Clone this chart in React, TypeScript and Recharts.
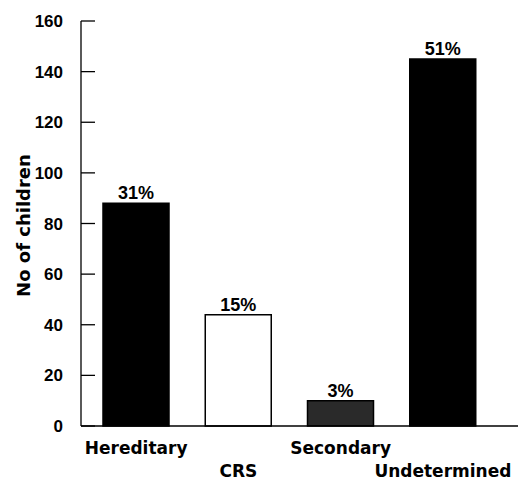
import React from 'react';
import { BarChart, Bar, XAxis, YAxis, Cell, LabelList } from 'recharts';

const categories = ['Hereditary', 'CRS', 'Secondary', 'Undetermined'];
const children = [88, 44, 10, 145];
const percents = ['31%', '15%', '3%', '51%'];
const fills = ['#000000', '#ffffff', '#2a2a2a', '#000000'];
const yTicks = [0, 20, 40, 60, 80, 100, 120, 140, 160];

const data = categories.map((name, i) => ({ name, value: children[i], pct: percents[i] }));

const YTick = (props: any) => {
    const { x, y, payload } = props;
    return (
        <g>
            <line x1={x} y1={y} x2={x + 14} y2={y} stroke="#000" strokeWidth={1.3} />
            <text
                x={x - 18}
                y={y}
                dy={6}
                textAnchor="end"
                fontFamily="'Liberation Sans', Arial, sans-serif"
                fontWeight="bold"
                fontSize={17}
                fill="#000"
            >
                {payload.value}
            </text>
        </g>
    );
};

const XTick = (props: any) => {
    const { x, y, payload, index } = props;
    return (
        <text
            x={x}
            y={y + (index % 2 === 0 ? 28 : 51)}
            textAnchor="middle"
            fontFamily="'DejaVu Sans', sans-serif"
            fontWeight="bold"
            fontSize={17}
            fill="#000"
        >
            {payload.value}
        </text>
    );
};

const YLabel = (props: any) => {
    const { viewBox } = props;
    const cx = viewBox.x + 23;
    const cy = viewBox.y + viewBox.height / 2 + 2;
    return (
        <text
            transform={`translate(${cx}, ${cy}) rotate(-90)`}
            textAnchor="middle"
            dominantBaseline="central"
            fontFamily="'DejaVu Sans', sans-serif"
            fontWeight="bold"
            fontSize={18}
            fill="#000"
        >
            No of children
        </text>
    );
};

export default function App() {
    return (
        <div style={{ position: 'absolute', left: 0, top: 0, background: '#fff' }}>
            <BarChart
                width={527}
                height={480}
                data={data}
                margin={{ top: 21, right: 9, left: 0, bottom: 0 }}
            >
                <XAxis
                    dataKey="name"
                    height={54}
                    interval={0}
                    tickSize={0}
                    tickMargin={0}
                    tickLine={false}
                    padding={{ left: 4, right: 24 }}
                    axisLine={{ stroke: '#000', strokeWidth: 1.3 }}
                    tick={<XTick />}
                />
                <YAxis
                    width={81}
                    domain={[0, 160]}
                    ticks={yTicks}
                    interval={0}
                    tickSize={0}
                    tickMargin={0}
                    tickLine={false}
                    axisLine={{ stroke: '#000', strokeWidth: 1.3 }}
                    tick={<YTick />}
                    label={<YLabel />}
                />
                <Bar dataKey="value" barSize={66} isAnimationActive={false}>
                    {data.map((d, i) => (
                        <Cell key={d.name} fill={fills[i]} stroke="#000" strokeWidth={1.5} />
                    ))}
                    <LabelList
                        dataKey="pct"
                        position="top"
                        offset={4}
                        fontFamily="'Liberation Sans', Arial, sans-serif"
                        fontWeight="bold"
                        fontSize={18}
                        fill="#000"
                    />
                </Bar>
            </BarChart>
        </div>
    );
}
